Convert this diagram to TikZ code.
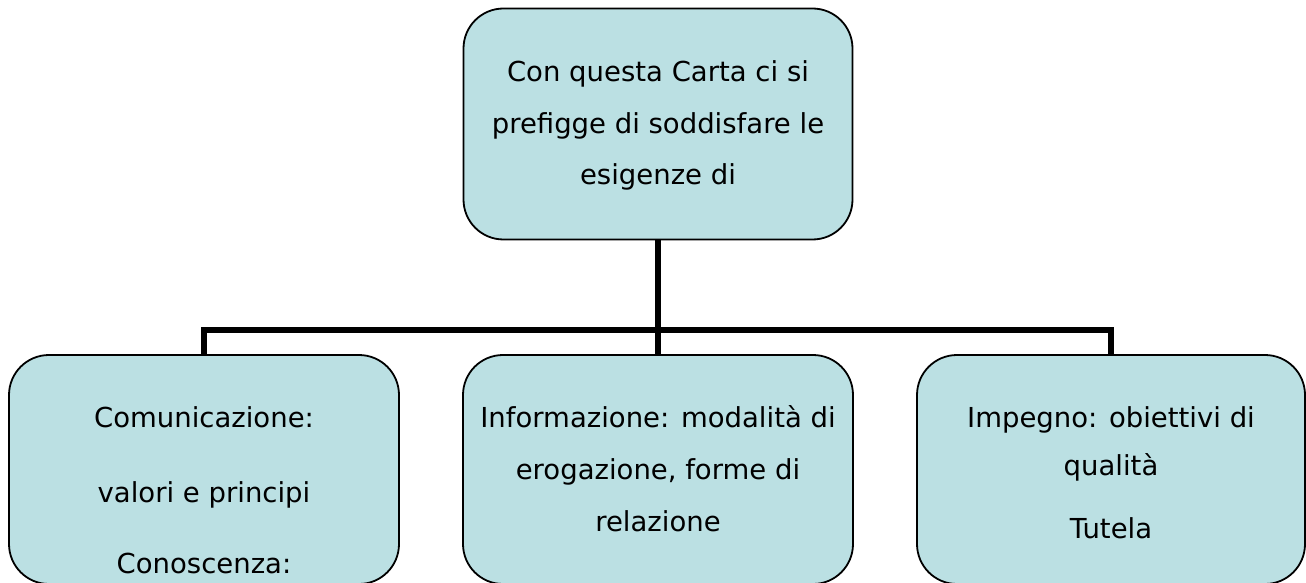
\documentclass[tikz,border=0pt]{standalone}
\usepackage{fontspec}
\setmainfont{DejaVu Sans}
\definecolor{boxfill}{HTML}{BBE0E3}
\tikzset{
  box/.style={draw=black, line width=1.8pt, fill=boxfill, rounded corners=40pt,
    minimum width=389pt, minimum height=230pt, inner sep=0pt},
  conn/.style={draw=black, line width=6.5pt, line join=miter},
  txt/.style={anchor=base, inner sep=0pt, font=\fontsize{27.5}{32}\selectfont}
}
\begin{document}
\begin{tikzpicture}[x=1pt,y=1pt]
\useasboundingbox (0,0) rectangle (1306,582);
% boxes
\node[box, minimum height=231pt] (top) at (658,458) {};
\node[box, minimum width=390pt, minimum height=229pt] (left) at (204,112.5) {};
\node[box, minimum width=390pt, minimum height=229pt] (mid) at (658,112.5) {};
\node[box, minimum width=388pt, minimum height=229pt] (right) at (1111,112.5) {};
% connectors
\coordinate (bar) at (0,252);
\draw[conn] (top.south) -- (mid.north);
\draw[conn] (left.north) |- (bar -| top.south) -| (right.north);
% texts
\node[txt] (t1) at (658,500) {Con questa Carta ci si};
\node[txt] (t2) at (658,448) {prefigge di soddisfare le};
\node[txt] (t3) at (658,397) {esigenze di};
\node[txt] (l1) at (204,155) {Comunicazione:};
\node[txt] (l2) at (204,80) {valori e principi};
\node[txt] (l3) at (204,9) {Conoscenza:};
\node[txt] (m1) at (658,155) {Informazione: modalità di};
\node[txt] (m2) at (658,103) {erogazione, forme di};
\node[txt] (m3) at (658,51) {relazione};
\node[txt] (r1) at (1111,155) {Impegno: obiettivi di};
\node[txt] (r2) at (1111,107) {qualità};
\node[txt] (r3) at (1111,44) {Tutela};
\end{tikzpicture}
\end{document}
